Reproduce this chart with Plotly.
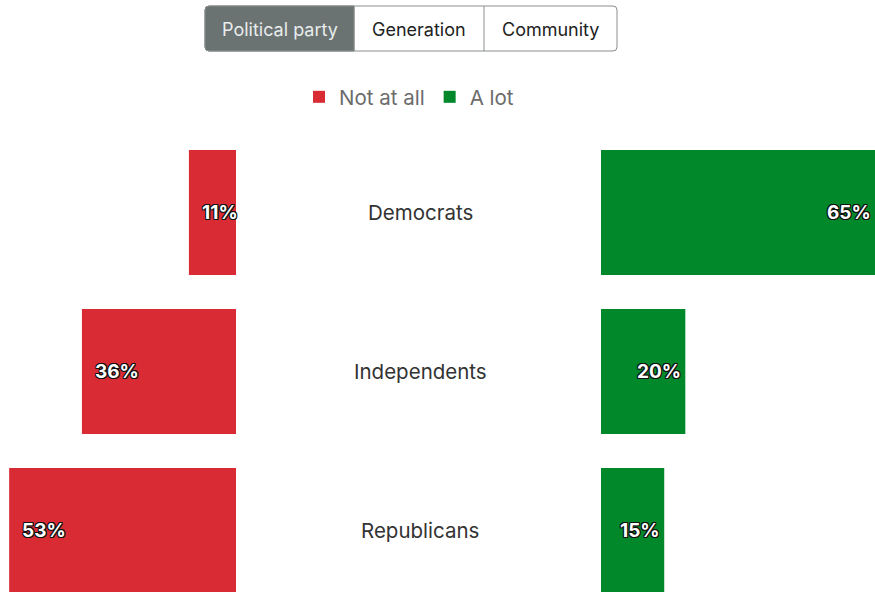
import plotly.graph_objects as go

categories = ["Democrats", "Independents", "Republicans"]
not_at_all = [11, 36, 53]
a_lot = [65, 20, 15]
series_names = ["Not at all", "A lot"]
tabs = ["Political party", "Generation", "Community"]

RED = "#d82b33"
GREEN = "#01882b"
W, H = 875, 592
FONT = "Inter"
OUTLINE = "1px 1px 0 #111, -1px -1px 0 #111, 1px -1px 0 #111, -1px 1px 0 #111, 0 1px 0 #111, 0 -1px 0 #111, 1px 0 0 #111, -1px 0 0 #111"

ypos = list(range(len(categories)))

fig = go.Figure()
fig.add_trace(go.Bar(
    x=not_at_all, y=ypos, orientation="h", name=series_names[0],
    marker=dict(color=RED, line=dict(width=0)), width=125 / 159,
    xaxis="x", yaxis="y", hoverinfo="skip",
))
fig.add_trace(go.Bar(
    x=a_lot, y=ypos, orientation="h", name=series_names[1],
    marker=dict(color=GREEN, line=dict(width=0)), width=125 / 159,
    xaxis="x2", yaxis="y", hoverinfo="skip",
))

ann = []
lab_font = dict(family=FONT, size=19, color="white", weight="bold", shadow=OUTLINE)
for i, (c, v1, v2) in enumerate(zip(categories, not_at_all, a_lot)):
    ann.append(dict(x=v1, y=i, xref="x", yref="y", text=f"{v1}%", showarrow=False,
                    xanchor="left", xshift=11, font=lab_font))
    ann.append(dict(x=v2, y=i, xref="x2", yref="y", text=f"{v2}%", showarrow=False,
                    xanchor="right", xshift=-2, font=lab_font))
    ann.append(dict(x=420 / W, y=i, xref="paper", yref="y", text=c, showarrow=False,
                    xanchor="center", font=dict(family=FONT, size=20.5, color="#333333")))

# tab buttons (shapes + text)
shapes = []
tab_x = [205, 354, 484, 617]
ty0, ty1 = 6, 51
def px(x):
    return x / W
def py(y):
    return 1 - y / H
shapes.append(dict(type="path", xref="paper", yref="paper",
                   path=f"M {px(209)} {py(ty0)} L {px(354)} {py(ty0)} L {px(354)} {py(ty1)} L {px(209)} {py(ty1)} Q {px(205)} {py(ty1)} {px(205)} {py(ty1-4)} L {px(205)} {py(ty0+4)} Q {px(205)} {py(ty0)} {px(209)} {py(ty0)} Z",
                   fillcolor="#6b7272", line=dict(color="#6b7272", width=1), layer="above"))
shapes.append(dict(type="path", xref="paper", yref="paper",
                   path=f"M {px(209)} {py(ty0)} L {px(613)} {py(ty0)} Q {px(617)} {py(ty0)} {px(617)} {py(ty0+4)} L {px(617)} {py(ty1-4)} Q {px(617)} {py(ty1)} {px(613)} {py(ty1)} L {px(209)} {py(ty1)} Q {px(205)} {py(ty1)} {px(205)} {py(ty1-4)} L {px(205)} {py(ty0+4)} Q {px(205)} {py(ty0)} {px(209)} {py(ty0)} Z",
                   fillcolor="rgba(0,0,0,0)", line=dict(color="#8a8f8f", width=1), layer="above"))
for xd in tab_x[1:-1]:
    shapes.append(dict(type="line", xref="paper", yref="paper", x0=px(xd), x1=px(xd),
                       y0=py(ty0), y1=py(ty1), line=dict(color="#8a8f8f", width=1), layer="above"))
for k, t in enumerate(tabs):
    cx = (tab_x[k] + tab_x[k + 1]) / 2
    ann.append(dict(x=px(cx), y=py(29), xref="paper", yref="paper", text=t, showarrow=False,
                    xanchor="center", yanchor="middle",
                    font=dict(family=FONT, size=18, color="#e8ecec" if k == 0 else "#222222")))

fig.update_layout(
    width=W, height=H,
    margin=dict(l=0, r=0, t=0, b=0),
    paper_bgcolor="white", plot_bgcolor="white",
    barmode="overlay",
    xaxis=dict(domain=[0, 236 / W], range=[236 / 4.28, 0], visible=False, fixedrange=True),
    xaxis2=dict(domain=[601 / W, 1], range=[0, 65], visible=False, anchor="y", fixedrange=True),
    yaxis=dict(range=[(H - 212.5) / 159, -212.5 / 159], visible=False, fixedrange=True),
    showlegend=True,
    legend=dict(orientation="h", x=409 / W, xanchor="center", y=py(97), yanchor="middle",
                font=dict(family=FONT, size=20.5, color="#6b6b6b"), bgcolor="rgba(0,0,0,0)",
                itemclick=False, itemdoubleclick=False),
    annotations=ann, shapes=shapes,
)

fig.write_html("out.html", config={"displayModeBar": False},
               post_script="document.body.style.margin='0';")
